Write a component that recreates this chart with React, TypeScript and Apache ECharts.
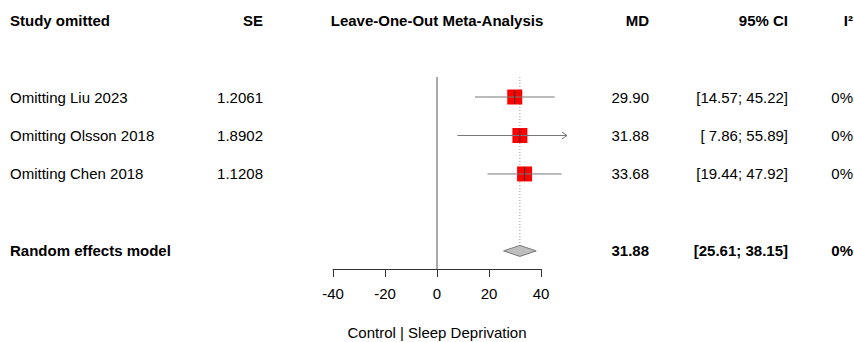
import { useEffect, useRef } from "react";
import * as echarts from "echarts";

// ---- data ----
const studies = ["Omitting Liu 2023", "Omitting Olsson 2018", "Omitting Chen 2018"];
const seValues = [1.2061, 1.8902, 1.1208];
const mdValues = [29.9, 31.88, 33.68];
const ciLower = [14.57, 7.86, 19.44];
const ciUpper = [45.22, 55.89, 47.92];
const i2Values = [0, 0, 0];

const summaryLabel = "Random effects model";
const summaryMd = 31.88;
const summaryLower = 25.61;
const summaryUpper = 38.15;
const summaryI2 = 0;

const headers = ["Study omitted", "SE", "Leave-One-Out Meta-Analysis", "MD", "95% CI", "I²"];
const xTickMin = -40;
const xTickMax = 40;
const xTickStep = 20;
const arrowLimit = 50;
const xAxisTitle = "Control | Sleep Deprivation";

// ---- layout rows ----
const headerRow = -2;
const summaryRow = 4;
const FONT = "'Liberation Sans', Arial, Helvetica, sans-serif";
const FS = 15;

const fmtCI = (l: number, u: number) =>
  `[${l.toFixed(2).padStart(5, " ")}; ${u.toFixed(2).padStart(5, " ")}]`;

const tableRows = [
  { row: headerRow, bold: true, cells: headers },
  ...studies.map((s, i) => ({
    row: i,
    bold: false,
    cells: [s, seValues[i].toFixed(4), "", mdValues[i].toFixed(2), fmtCI(ciLower[i], ciUpper[i]), `${i2Values[i]}%`],
  })),
  {
    row: summaryRow,
    bold: true,
    cells: [summaryLabel, "", "", summaryMd.toFixed(2), fmtCI(summaryLower, summaryUpper), `${summaryI2}%`],
  },
];

const colX = [10, 263, 437, 649, 788, 853];
const colAlign = ["left", "right", "center", "right", "right", "right"];

export default function App() {
  const ref = useRef<HTMLDivElement>(null);

  useEffect(() => {
    if (!ref.current) return;
    const chart = echarts.init(ref.current, null, { renderer: "svg" });

    const option: any = {
      animation: false,
      grid: { left: 333, right: 313, top: 77, bottom: 73, outerBoundsMode: "none", containLabel: false },
      xAxis: {
        type: "value",
        min: xTickMin,
        max: xTickMax,
        interval: xTickStep,
        splitLine: { show: false },
        axisLine: { show: true, onZero: false, lineStyle: { color: "#333", width: 1 } },
        axisTick: { show: true, inside: false, length: 8, lineStyle: { color: "#333" } },
        axisLabel: { color: "#000", fontSize: FS, fontFamily: FONT, margin: 17 },
        name: xAxisTitle,
        nameLocation: "middle",
        nameGap: 56,
        nameTextStyle: { color: "#000", fontSize: FS, fontFamily: FONT },
      },
      yAxis: {
        type: "value",
        min: -0.52,
        max: 4.47,
        inverse: true,
        show: false,
      },
      series: [
        // zero line and summary dotted line
        {
          type: "custom",
          clip: false,
          silent: true,
          data: [[0, 0]],
          renderItem: (_p: any, api: any) => {
            const top = api.coord([0, -0.52]);
            const bot = api.coord([0, 4.47]);
            const sx = api.coord([summaryMd, summaryRow])[0];
            const dTop = api.coord([summaryMd, summaryRow])[1] - 5.5;
            return {
              type: "group",
              children: [
                {
                  type: "line",
                  shape: { x1: top[0], y1: top[1], x2: bot[0], y2: bot[1] },
                  style: { stroke: "#555", lineWidth: 1 },
                },
                {
                  type: "line",
                  shape: { x1: sx, y1: top[1], x2: sx, y2: dTop },
                  style: { stroke: "#999", lineWidth: 1, lineDash: [1, 2] },
                },
              ],
            };
          },
        },
        // study squares + CIs
        {
          type: "custom",
          clip: false,
          silent: true,
          data: studies.map((_, i) => [mdValues[i], i]),
          renderItem: (params: any, api: any) => {
            const i = params.dataIndex;
            const [xm, y] = api.coord([mdValues[i], i]);
            const xl = api.coord([ciLower[i], i])[0];
            const up = Math.min(ciUpper[i], arrowLimit);
            const xu = api.coord([up, i])[0];
            const children: any[] = [
              {
                type: "rect",
                shape: { x: xm - 7.5, y: y - 7.5, width: 15, height: 15 },
                style: { fill: "#FF0000" },
              },
              {
                type: "line",
                shape: { x1: xl, y1: y, x2: xu, y2: y },
                style: { stroke: "#777", lineWidth: 1 },
              },
              {
                type: "line",
                shape: { x1: xm, y1: y - 7, x2: xm, y2: y + 7 },
                style: { stroke: "#333", lineWidth: 1 },
              },
            ];
            if (ciUpper[i] > arrowLimit) {
              children.push({
                type: "polyline",
                shape: { points: [[xu - 5, y - 3.5], [xu, y], [xu - 5, y + 3.5]] },
                style: { stroke: "#777", fill: "none", lineWidth: 1 },
              });
            }
            return { type: "group", children };
          },
        },
        // summary diamond
        {
          type: "custom",
          clip: false,
          silent: true,
          data: [[summaryMd, summaryRow]],
          renderItem: (_p: any, api: any) => {
            const [xm, y] = api.coord([summaryMd, summaryRow]);
            const xl = api.coord([summaryLower, summaryRow])[0];
            const xu = api.coord([summaryUpper, summaryRow])[0];
            return {
              type: "polygon",
              shape: { points: [[xl, y], [xm, y - 5.5], [xu, y], [xm, y + 5.5]] },
              style: { fill: "#BEBEBE", stroke: "#777", lineWidth: 1 },
            };
          },
        },
        // table text
        {
          type: "custom",
          clip: false,
          silent: true,
          data: tableRows.map((r) => [0, r.row]),
          renderItem: (params: any, api: any) => {
            const r = tableRows[params.dataIndex];
            const y = api.coord([0, r.row])[1];
            const children = r.cells
              .map((c, k) => ({ c, k }))
              .filter((o) => o.c !== "")
              .map(({ c, k }) => ({
                type: "text",
                x: colX[k],
                y,
                style: {
                  text: c,
                  fill: "#000",
                  fontSize: FS,
                  fontFamily: FONT,
                  fontWeight: r.bold ? "bold" : "normal",
                  align: colAlign[k],
                  verticalAlign: "middle",
                  textAlign: colAlign[k],
                  textVerticalAlign: "middle",
                },
              }));
            return { type: "group", children };
          },
        },
      ],
    };

    chart.setOption(option);
    return () => chart.dispose();
  }, []);

  return (
    <div
      ref={ref}
      style={{ position: "absolute", left: 0, top: 0, width: 854, height: 342, background: "#fff" }}
    />
  );
}
